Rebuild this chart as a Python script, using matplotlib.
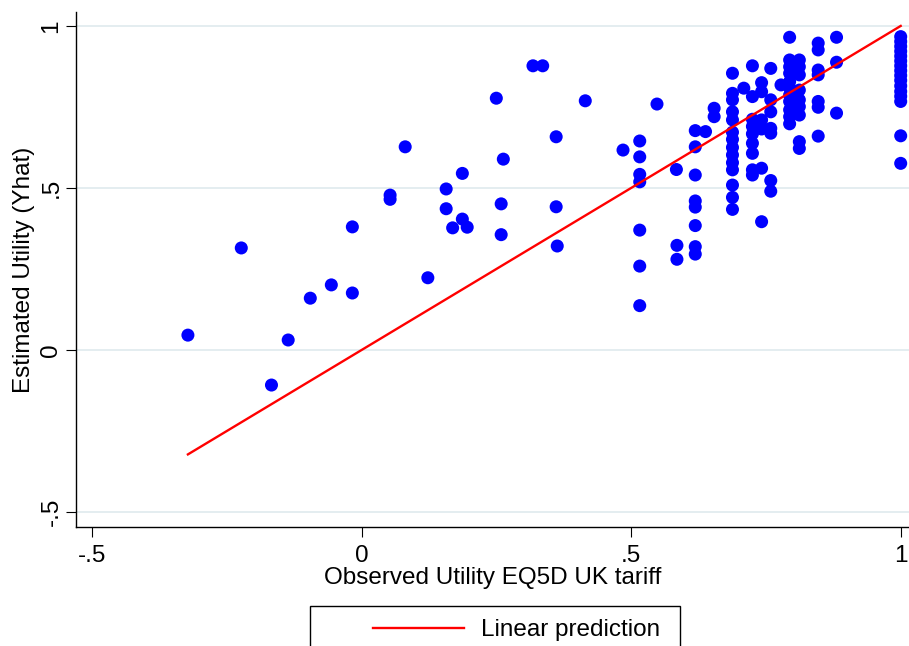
import matplotlib.pyplot as plt
from matplotlib.lines import Line2D
from matplotlib.patches import Rectangle

# observed EQ5D utility (UK tariff) vs estimated utility from the model
obs_utility = [
    -0.322, -0.223, -0.167, -0.136, -0.095, -0.056, -0.017, -0.017,
    0.053, 0.053, 0.081, 0.123,
    0.157, 0.157, 0.169, 0.187, 0.187, 0.196,
    0.250, 0.263, 0.259, 0.259,
    0.318, 0.336,
    0.361, 0.361, 0.363,
    0.415, 0.485,
    0.516, 0.516, 0.516, 0.516, 0.516, 0.516, 0.516,
    0.548,
    0.584, 0.585, 0.585,
    0.619, 0.619, 0.619, 0.619, 0.619, 0.619, 0.619, 0.619,
    0.638,
    0.654, 0.654,
    0.688, 0.688, 0.688, 0.688, 0.688, 0.688, 0.688,
    0.688, 0.688, 0.688, 0.688, 0.688, 0.688, 0.688,
    0.709,
    0.725, 0.725, 0.725, 0.725, 0.725, 0.725, 0.725, 0.725, 0.725,
    0.742, 0.742, 0.742, 0.742, 0.742, 0.742,
    0.759, 0.759, 0.759, 0.759, 0.759, 0.759, 0.759,
    0.778,
    0.794, 0.794, 0.794, 0.794, 0.794, 0.794, 0.794, 0.794, 0.794, 0.794, 0.794,
    0.812, 0.812, 0.812, 0.812, 0.812, 0.812, 0.812, 0.812, 0.812,
    0.847, 0.847, 0.847, 0.847, 0.847, 0.847, 0.847,
    0.881, 0.881, 0.881,
    1.0, 1.0, 1.0, 1.0, 1.0, 1.0, 1.0, 1.0,
    1.0, 1.0, 1.0, 1.0, 1.0, 1.0, 1.0, 1.0,
]
est_utility = [
    0.046, 0.315, -0.108, 0.031, 0.160, 0.201, 0.380, 0.176,
    0.478, 0.465, 0.627, 0.223,
    0.497, 0.436, 0.377, 0.545, 0.404, 0.379,
    0.777, 0.589, 0.451, 0.356,
    0.877, 0.877,
    0.658, 0.442, 0.321,
    0.769, 0.617,
    0.645, 0.596, 0.542, 0.519, 0.370, 0.259, 0.137,
    0.759,
    0.557, 0.323, 0.280,
    0.677, 0.627, 0.540, 0.460, 0.441, 0.384, 0.319, 0.296,
    0.674,
    0.746, 0.720,
    0.854, 0.792, 0.772, 0.735, 0.710, 0.672, 0.650,
    0.625, 0.602, 0.578, 0.556, 0.509, 0.471, 0.434,
    0.808,
    0.877, 0.782, 0.712, 0.690, 0.667, 0.638, 0.607, 0.556, 0.540,
    0.825, 0.797, 0.710, 0.682, 0.561, 0.396,
    0.869, 0.772, 0.735, 0.684, 0.669, 0.523, 0.490,
    0.818,
    0.965, 0.895, 0.874, 0.854, 0.828, 0.808, 0.787, 0.767, 0.741, 0.720, 0.698,
    0.895, 0.874, 0.849, 0.802, 0.772, 0.751, 0.725, 0.643, 0.622,
    0.947, 0.926, 0.864, 0.849, 0.767, 0.749, 0.660,
    0.965, 0.888, 0.731,
    0.967, 0.952, 0.937, 0.922, 0.907, 0.892, 0.877, 0.862,
    0.847, 0.832, 0.815, 0.798, 0.783, 0.767, 0.661, 0.576,
]

# linear prediction (intercept, slope)
fit_b0 = 0.0
fit_b1 = 1.0

tick_vals = [-0.5, 0, 0.5, 1]
tick_labels = ['-.5', '0', '.5', '1']

plt.rcParams['font.family'] = ['Liberation Sans', 'DejaVu Sans']
fs = 17.5

fig = plt.figure(figsize=(9.09, 6.46), dpi=100)
ax = fig.add_axes([76.3 / 909, 1 - 527 / 646, 1 - 76.3 / 909, (527 - 12) / 646])

ax.scatter(obs_utility, est_utility, s=88, color='#0000ff', edgecolors='none', zorder=2)
line_x = [min(obs_utility), max(obs_utility)]
line_y = [fit_b0 + fit_b1 * v for v in line_x]
fit_line, = ax.plot(line_x, line_y, color='red', lw=1.7, zorder=3)

ax.set_xlim(-0.529, 1.0154)
ax.set_ylim(-0.546, 1.043)
ax.set_xticks(tick_vals)
ax.set_xticklabels(tick_labels)
ax.set_yticks(tick_vals)
ax.set_yticklabels(tick_labels, rotation=90, va='center')

for side in ['top', 'right']:
    ax.spines[side].set_visible(False)
for side in ['left', 'bottom']:
    ax.spines[side].set_linewidth(1.0)

ax.yaxis.grid(True, color='#e4edf0', lw=1.4)
ax.set_axisbelow(True)
ax.tick_params(axis='both', length=7, width=0.8, labelsize=fs)
ax.tick_params(axis='x', pad=6)
ax.tick_params(axis='y', pad=3)

ax.set_xlabel('Observed Utility EQ5D UK tariff', fontsize=fs)
ax.set_ylabel('Estimated Utility (Yhat)', fontsize=fs)
ax.xaxis.label.set_va('center')
ax.yaxis.label.set_va('center')
ax.xaxis.set_label_coords(0.5, (527 - 578) / 515)
ax.yaxis.set_label_coords((24 - 76.3) / 832.7, 0.5)

# legend box runs off the bottom of the figure
fig.legend([fit_line], ['Linear prediction'], loc='center left',
           bbox_to_anchor=(373 / 909, 1 - 630 / 646), frameon=False,
           borderpad=0, borderaxespad=0, fontsize=fs,
           handlelength=91 / 24.3, handletextpad=17 / 24.3)
fig.add_artist(Rectangle((310 / 909, -0.05), 370 / 909, 0.05 + 1 - 606 / 646,
                         transform=fig.transFigure, fill=False,
                         edgecolor='black', lw=1.0))

fig.savefig('out.png', dpi=100)
